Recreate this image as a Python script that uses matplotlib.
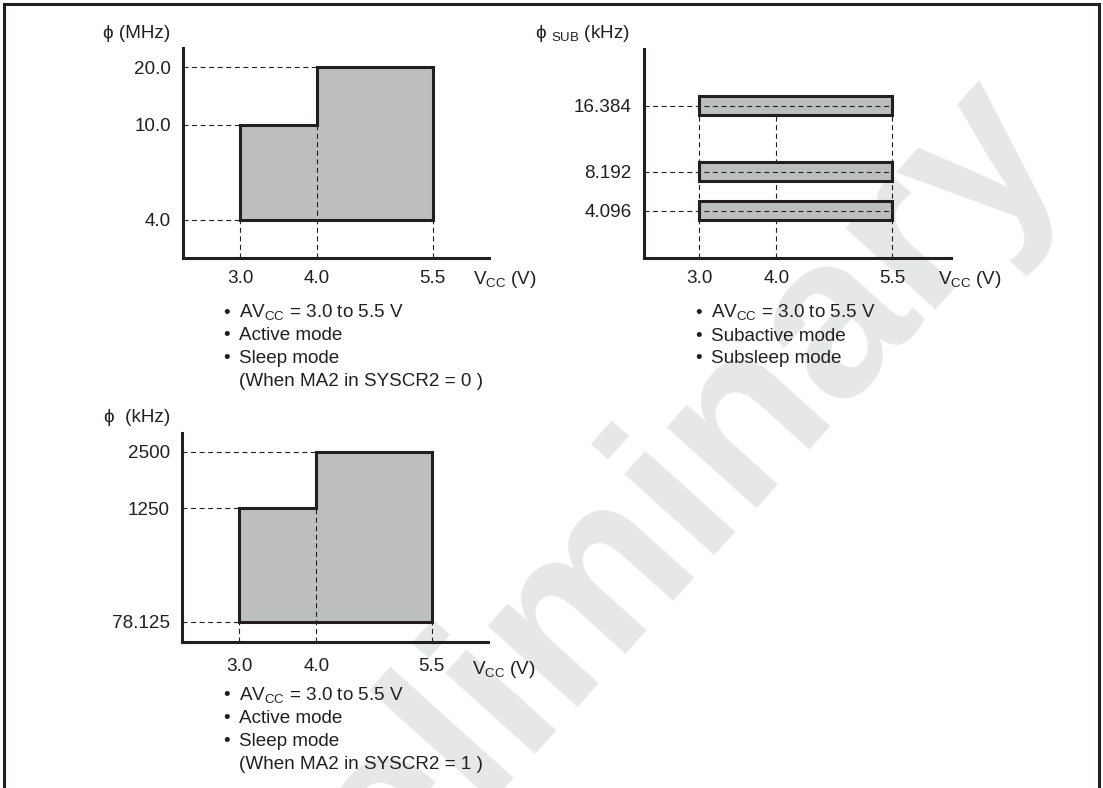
import matplotlib
matplotlib.use('Agg')
import matplotlib.pyplot as plt
from matplotlib.lines import Line2D
import numpy as np

plt.rcParams['font.family'] = ['Liberation Sans', 'DejaVu Sans']
plt.rcParams['mathtext.fontset'] = 'custom'
plt.rcParams['mathtext.rm'] = 'Liberation Sans'

# supply voltage axis (same for all three panels)
vcc_edges = [3.0, 4.0, 5.5]
vcc_labels = ['3.0', '4.0', '5.5']

# system clock, MA2 = 0 (MHz)
mhz_levels = [4.0, 10.0, 20.0]
mhz_labels = ['4.0', '10.0', '20.0']

# system clock, MA2 = 1 (kHz)
khz_levels = [78.125, 1250, 2500]
khz_labels = ['78.125', '1250', '2500']

# subclock (kHz)
sub_levels = [4.096, 8.192, 16.384]
sub_labels = ['4.096', '8.192', '16.384']

notes_main0 = [r'AV$_{\mathregular{CC}}$ = 3.0 to 5.5 V', 'Active mode', 'Sleep mode',
               '(When MA2 in SYSCR2 = 0 )']
notes_sub = [r'AV$_{\mathregular{CC}}$ = 3.0 to 5.5 V', 'Subactive mode', 'Subsleep mode']
notes_main1 = [r'AV$_{\mathregular{CC}}$ = 3.0 to 5.5 V', 'Active mode', 'Sleep mode',
               '(When MA2 in SYSCR2 = 1 )']

ink = '#231f20'
fill = '#bcbec0'
W, H = 1103, 788
fs = 13.6
dash = (0, (4.5, 3.2))

fig = plt.figure(figsize=(W / 100, H / 100), dpi=100)


def px_axes(x0, y0, x1, y1):
    ax = fig.add_axes([x0 / W, 1 - y1 / H, (x1 - x0) / W, (y1 - y0) / H])
    ax.set_facecolor('none')
    return ax


def squash(levels, frac):
    # the datasheet does not draw the frequency axis to scale:
    # piecewise-linear mapping puts each level where it sits in the drawing
    top = levels[-1] * 1.2
    vals = [0] + list(levels) + [top]
    pos = [0] + list(frac) + [1]
    fwd = lambda v: np.interp(v, vals, pos)
    inv = lambda p: np.interp(p, pos, vals)
    return fwd, inv, top


def style(ax, levels, labels, frac, xlim, xpad):
    fwd, inv, top = squash(levels, frac)
    ax.set_yscale('function', functions=(fwd, inv))
    ax.set_ylim(0, top)
    ax.set_xlim(*xlim)
    for s in ['top', 'right']:
        ax.spines[s].set_visible(False)
    for s in ['left', 'bottom']:
        ax.spines[s].set_linewidth(2.2)
        ax.spines[s].set_color(ink)
    ax.set_xticks(vcc_edges, vcc_labels)
    ax.set_yticks(levels, labels)
    ax.minorticks_off()
    ax.tick_params(length=0, labelsize=fs, colors=ink)
    ax.tick_params(axis='x', pad=xpad)
    ax.tick_params(axis='y', pad=8.6)
    return fwd, inv


def step_panel(ax, levels, xlim):
    lo, mid, hi = levels
    xs = [vcc_edges[0], vcc_edges[0], vcc_edges[1], vcc_edges[1], vcc_edges[2], vcc_edges[2]]
    ys = [lo, mid, mid, hi, hi, lo]
    ax.fill(xs, ys, facecolor=fill, edgecolor=ink, lw=2.2, joinstyle='miter', zorder=2)
    kw = dict(color=ink, lw=0.8, ls=dash, zorder=3)
    ax.plot([xlim[0], vcc_edges[0]], [lo, lo], **kw)
    ax.plot([xlim[0], vcc_edges[0]], [mid, mid], **kw)
    ax.plot([xlim[0], vcc_edges[1]], [hi, hi], **kw)
    ax.plot([vcc_edges[0], vcc_edges[0]], [0, lo], **kw)
    ax.plot([vcc_edges[1], vcc_edges[1]], [0, mid], **kw)
    ax.plot([vcc_edges[2], vcc_edges[2]], [0, lo], **kw)


def notes(x, baselines, lines):
    for y, t in zip(baselines, lines):
        if not t.startswith('('):
            fig.text((x - 15.5) / W, 1 - y / H, '\u2022', fontsize=fs, color=ink, va='baseline')
        fig.text(x / W, 1 - y / H, t, fontsize=fs, color=ink, va='baseline')


# panel 1: main clock, MA2 = 0
xlim1 = (2.256, 6.23)
ax1 = px_axes(182.7, 48, 489, 257.7)
style(ax1, mhz_levels, mhz_labels, [0.180, 0.635, 0.909], xlim1, 9)
step_panel(ax1, mhz_levels, xlim1)

# panel 2: subclock
xlim2 = (2.285, 6.26)
ax2 = px_axes(643.8, 49, 951, 257.7)
fwd2, inv2 = style(ax2, sub_levels, sub_labels, [0.224, 0.411, 0.727], xlim2, 9)
half = 0.0455
kw = dict(color=ink, lw=0.8, ls=dash)
for v in vcc_edges:
    ax2.plot([v, v], [0, sub_levels[-1]], zorder=1, **kw)
for lev in sub_levels:
    b = inv2(fwd2(lev) - half)
    t = inv2(fwd2(lev) + half)
    ax2.barh(b, vcc_edges[-1] - vcc_edges[0], height=t - b, left=vcc_edges[0],
             align='edge', color=fill, edgecolor=ink, lw=2.2, zorder=2)
    ax2.plot([xlim2[0], vcc_edges[-1]], [lev, lev], zorder=3, **kw)

# panel 3: main clock, MA2 = 1
xlim3 = (2.254, 6.23)
ax3 = px_axes(181.7, 432.7, 488, 642)
style(ax3, khz_levels, khz_labels, [0.097, 0.639, 0.909], xlim3, 11.6)
step_panel(ax3, khz_levels, xlim3)

# axis titles
fig.text(170.7 / W, 1 - 33 / H, '\u03d5 (MHz)', fontsize=fs, color=ink, ha='right', va='center')
fig.text(630 / W, 1 - 38.5 / H, '\u03d5 $_{\\mathregular{SUB}}$ (kHz)', fontsize=fs, color=ink,
         ha='right', va='baseline')
fig.text(170.7 / W, 1 - 418 / H, '\u03d5  (kHz)', fontsize=fs, color=ink, ha='right', va='center')
vcc = r'V$_{\mathregular{CC}}$ (V)'
fig.text(473 / W, 1 - 283.5 / H, vcc, fontsize=fs, color=ink, va='baseline')
fig.text(937.7 / W, 1 - 283.5 / H, vcc, fontsize=fs, color=ink, va='baseline')
fig.text(471.7 / W, 1 - 673.5 / H, vcc, fontsize=fs, color=ink, va='baseline')

notes(238.6, [318, 340.5, 363.5, 386.5], notes_main0)
notes(710.6, [318, 341, 363.5], notes_sub)
notes(238.6, [700.5, 723.3, 746, 769], notes_main1)

# watermark
fig.text(648 / W, 1 - 612 / H, 'Preliminary', fontsize=165, fontweight='bold', color='#e6e7e8',
         rotation=48, rotation_mode='anchor', ha='center', va='baseline', zorder=-1)

# frame
for xs, ys in [([4, 4], [788, 4]), ([4, 1099], [4, 4]), ([1099, 1099], [4, 788])]:
    fig.add_artist(Line2D([x / W for x in xs], [1 - y / H for y in ys], color=ink, lw=2.2))

fig.savefig('out.png', dpi=100)
